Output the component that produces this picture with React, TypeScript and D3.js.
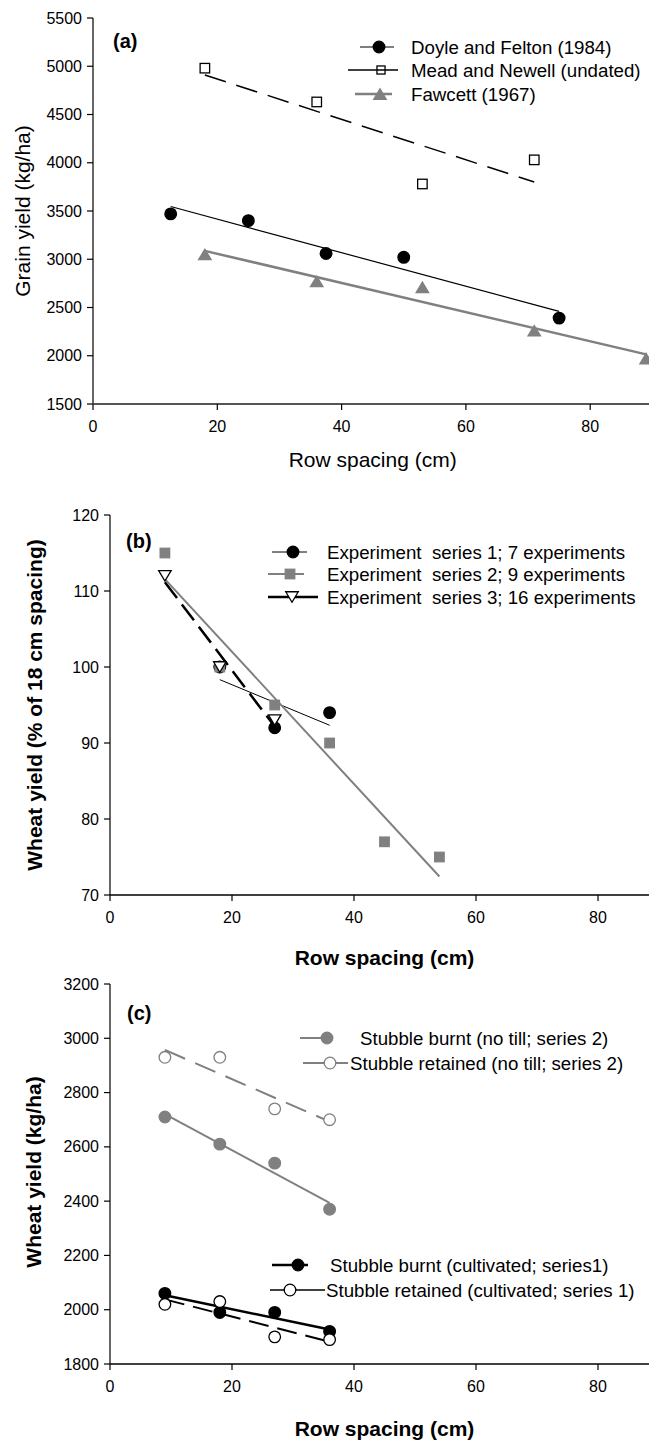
import React from 'react';
import * as d3 from 'd3';

const W = 649;
const H = 1441;
const FONT = "'Liberation Sans', Arial, Helvetica, sans-serif";
const GRAY = '#808080';

// ---------- shared ----------
const xTicks = [0, 20, 40, 60, 80];

// ---------- Panel (a) ----------
const doyleSpacing = [12.5, 25, 37.5, 50, 75];
const doyleYield = [3470, 3400, 3060, 3020, 2390];
const meadSpacing = [18, 36, 53, 71];
const meadYield = [4980, 4630, 3780, 4030];
const fawcettSpacing = [18, 36, 53, 71, 89];
const fawcettYield = [3050, 2770, 2710, 2260, 1970];
const yTicksA = [1500, 2000, 2500, 3000, 3500, 4000, 4500, 5000, 5500];
const legendA = ['Doyle and Felton (1984)', 'Mead and Newell (undated)', 'Fawcett (1967)'];

// ---------- Panel (b) ----------
const exp1Spacing = [18, 27, 36];
const exp1Yield = [100, 92, 94];
const exp2Spacing = [9, 18, 27, 36, 45, 54];
const exp2Yield = [115, 100, 95, 90, 77, 75];
const exp3Spacing = [9, 18, 27];
const exp3Yield = [112, 100, 93];
const yTicksB = [70, 80, 90, 100, 110, 120];
const legendB = [
  'Experiment  series 1; 7 experiments',
  'Experiment  series 2; 9 experiments',
  'Experiment  series 3; 16 experiments',
];

// ---------- Panel (c) ----------
const cSpacing = [9, 18, 27, 36];
const burntNoTill = [2710, 2610, 2540, 2370];
const retainedNoTill = [2930, 2930, 2740, 2700];
const burntCult = [2060, 1990, 1990, 1920];
const retainedCult = [2020, 2030, 1900, 1890];
const yTicksC = [1800, 2000, 2200, 2400, 2600, 2800, 3000, 3200];
const legendC1 = ['Stubble burnt (no till; series 2)', 'Stubble retained (no till; series 2)'];
const legendC2 = ['Stubble burnt (cultivated; series1)', 'Stubble retained (cultivated; series 1)'];

type Marker = 'circle' | 'square' | 'triUp' | 'triDown';

function fit(xs: number[], ys: number[]) {
  const mx = d3.mean(xs) as number;
  const my = d3.mean(ys) as number;
  let sxy = 0, sxx = 0;
  xs.forEach((x, i) => { sxy += (x - mx) * (ys[i] - my); sxx += (x - mx) * (x - mx); });
  const b = sxy / sxx;
  const x0 = d3.min(xs) as number, x1 = d3.max(xs) as number;
  return [[x0, my + b * (x0 - mx)], [x1, my + b * (x1 - mx)]] as [number, number][];
}

function MarkerShape({ type, cx, cy, fill, stroke, size = 1 }: { type: Marker; cx: number; cy: number; fill: string; stroke: string; size?: number }) {
  if (type === 'circle') return <circle cx={cx} cy={cy} r={5.8 * size} fill={fill} stroke={stroke} strokeWidth={1.3} />;
  if (type === 'square') {
    const s = 9.5 * size;
    return <rect x={cx - s / 2} y={cy - s / 2} width={s} height={s} fill={fill} stroke={stroke} strokeWidth={1.3} />;
  }
  const w = 12.5 * size, h = 10.5 * size;
  if (type === 'triUp') {
    return <path d={`M${cx - w / 2},${cy + h / 2}L${cx + w / 2},${cy + h / 2}L${cx},${cy - h / 2}Z`} fill={fill} stroke={stroke} strokeWidth={1.3} />;
  }
  return <path d={`M${cx - w / 2},${cy - h / 2}L${cx + w / 2},${cy - h / 2}L${cx},${cy + h / 2}Z`} fill={fill} stroke={stroke} strokeWidth={1.3} />;
}

interface Series {
  xs: number[];
  ys: number[];
  marker: Marker;
  fill: string;
  mstroke: string;
  lineColor: string;
  lineWidth: number;
  dash?: string;
}

interface LegendItem {
  label: string;
  marker: Marker;
  fill: string;
  mstroke: string;
  lineColor: string;
  lineWidth: number;
  x1: number;
  x2: number;
  mx: number;
  tx: number;
  y: number;
  msize?: number;
}

interface PanelProps {
  xRange: [number, number];
  yDomain: [number, number];
  yRange: [number, number];
  yTicks: number[];
  series: Series[];
  legend: LegendItem[];
  label: string;
  labelPos: [number, number];
  yTitle: string;
  yTitlePos: [number, number];
  xTitle: string;
  xTitleY: number;
  bold: boolean;
  xAxisColor?: string;
  xAxisWidth?: number;
}

function Panel(p: PanelProps) {
  const x = d3.scaleLinear().domain([0, 90]).range(p.xRange);
  const y = d3.scaleLinear().domain(p.yDomain).range(p.yRange);
  const line = d3.line<[number, number]>().x((d) => x(d[0])).y((d) => y(d[1]));
  const x0 = x(0);
  const yBottom = y(p.yDomain[0]);
  const yTop = y(p.yDomain[1]);
  const titleWeight = p.bold ? 'bold' : 'normal';
  return (
    <g>
      {/* y axis */}
      <line x1={x0} x2={x0} y1={yTop} y2={yBottom} stroke="#000" strokeWidth={1.2} />
      {p.yTicks.map((t) => (
        <g key={'yt' + t}>
          <line x1={x0 - 6} x2={x0} y1={y(t)} y2={y(t)} stroke="#000" strokeWidth={1.2} />
          <text x={x0 - 11} y={y(t)} dy="0.35em" textAnchor="end" fontSize={16} fontFamily={FONT}>{t}</text>
        </g>
      ))}
      {/* x axis */}
      <line x1={x0} x2={x(90)} y1={yBottom} y2={yBottom} stroke={p.xAxisColor || '#000'} strokeWidth={p.xAxisWidth || 1.5} />
      {xTicks.map((t) => (
        <g key={'xt' + t}>
          <line x1={x(t)} x2={x(t)} y1={yBottom} y2={yBottom + 6} stroke="#000" strokeWidth={1.2} />
          <text x={x(t)} y={yBottom + 28} textAnchor="middle" fontSize={16} fontFamily={FONT}>{t}</text>
        </g>
      ))}
      <text x={(x(0) + x(90)) / 2} y={p.xTitleY} textAnchor="middle" fontSize={21} fontWeight={titleWeight} fontFamily={FONT}>{p.xTitle}</text>
      <text transform={`translate(${p.yTitlePos[0]},${p.yTitlePos[1]}) rotate(-90)`} textAnchor="middle" fontSize={21} fontWeight={titleWeight} fontFamily={FONT}>{p.yTitle}</text>
      <text x={p.labelPos[0]} y={p.labelPos[1]} fontSize={20} fontWeight="bold" fontFamily={FONT}>{p.label}</text>
      {/* fit lines */}
      {p.series.map((s, i) => (
        <path key={'l' + i} d={line(fit(s.xs, s.ys)) as string} fill="none" stroke={s.lineColor} strokeWidth={s.lineWidth} strokeDasharray={s.dash} />
      ))}
      {/* markers */}
      {p.series.map((s, i) => (
        <g key={'m' + i}>
          {s.xs.map((xv, j) => (
            <MarkerShape key={j} type={s.marker} cx={x(xv)} cy={y(s.ys[j])} fill={s.fill} stroke={s.mstroke} />
          ))}
        </g>
      ))}
      {/* legend */}
      {p.legend.map((l, i) => (
        <g key={'lg' + i}>
          <line x1={l.x1} x2={l.x2} y1={l.y} y2={l.y} stroke={l.lineColor} strokeWidth={l.lineWidth} />
          <MarkerShape type={l.marker} cx={l.mx} cy={l.y} fill={l.fill} stroke={l.mstroke} size={l.msize || 1} />
          <text x={l.tx} y={l.y} dy="0.35em" fontSize={18.7} fontFamily={FONT} style={{ whiteSpace: 'pre' }}>{l.label}</text>
        </g>
      ))}
    </g>
  );
}

export default function App() {
  const seriesA: Series[] = [
    { xs: fawcettSpacing, ys: fawcettYield, marker: 'triUp', fill: GRAY, mstroke: GRAY, lineColor: GRAY, lineWidth: 2.5 },
    { xs: doyleSpacing, ys: doyleYield, marker: 'circle', fill: '#000', mstroke: '#000', lineColor: '#000', lineWidth: 1.2 },
    { xs: meadSpacing, ys: meadYield, marker: 'square', fill: '#fff', mstroke: '#000', lineColor: '#000', lineWidth: 1.5, dash: '22,11' },
  ];
  const legA: LegendItem[] = [
    { label: legendA[0], marker: 'circle', fill: '#000', mstroke: '#000', lineColor: '#000', lineWidth: 1.2, x1: 360, x2: 394, mx: 379, tx: 411, y: 47 },
    { label: legendA[1], marker: 'square', fill: 'none', mstroke: '#000', lineColor: '#000', lineWidth: 1.5, x1: 348, x2: 398, mx: 381, tx: 411, y: 70, msize: 0.85 },
    { label: legendA[2], marker: 'triUp', fill: GRAY, mstroke: GRAY, lineColor: GRAY, lineWidth: 2.5, x1: 355, x2: 392, mx: 380, tx: 411, y: 94 },
  ];
  const seriesB: Series[] = [
    { xs: exp1Spacing, ys: exp1Yield, marker: 'circle', fill: '#000', mstroke: '#000', lineColor: '#000', lineWidth: 1 },
    { xs: exp2Spacing, ys: exp2Yield, marker: 'square', fill: GRAY, mstroke: GRAY, lineColor: GRAY, lineWidth: 2 },
    { xs: exp3Spacing, ys: exp3Yield, marker: 'triDown', fill: '#fff', mstroke: '#000', lineColor: '#000', lineWidth: 2.5, dash: '20,8' },
  ];
  const legB: LegendItem[] = [
    { label: legendB[0], marker: 'circle', fill: '#000', mstroke: '#000', lineColor: '#000', lineWidth: 1, x1: 272, x2: 307, mx: 293, tx: 327, y: 552 },
    { label: legendB[1], marker: 'square', fill: GRAY, mstroke: GRAY, lineColor: GRAY, lineWidth: 2, x1: 268, x2: 304, mx: 290, tx: 327, y: 574 },
    { label: legendB[2], marker: 'triDown', fill: '#fff', mstroke: '#000', lineColor: '#000', lineWidth: 2.5, x1: 268, x2: 318, mx: 292, tx: 327, y: 597 },
  ];
  const seriesC: Series[] = [
    { xs: cSpacing, ys: burntNoTill, marker: 'circle', fill: GRAY, mstroke: GRAY, lineColor: GRAY, lineWidth: 2 },
    { xs: cSpacing, ys: retainedNoTill, marker: 'circle', fill: '#fff', mstroke: GRAY, lineColor: GRAY, lineWidth: 2, dash: '22,11' },
    { xs: cSpacing, ys: burntCult, marker: 'circle', fill: '#000', mstroke: '#000', lineColor: '#000', lineWidth: 2.5 },
    { xs: cSpacing, ys: retainedCult, marker: 'circle', fill: '#fff', mstroke: '#000', lineColor: '#000', lineWidth: 2, dash: '20,9' },
  ];
  const legC: LegendItem[] = [
    { label: legendC1[0], marker: 'circle', fill: GRAY, mstroke: GRAY, lineColor: GRAY, lineWidth: 2, x1: 300, x2: 333, mx: 327, tx: 360, y: 1038 },
    { label: legendC1[1], marker: 'circle', fill: '#fff', mstroke: GRAY, lineColor: GRAY, lineWidth: 2, x1: 303, x2: 348, mx: 330, tx: 350, y: 1063 },
    { label: legendC2[0], marker: 'circle', fill: '#000', mstroke: '#000', lineColor: '#000', lineWidth: 2.5, x1: 272, x2: 308, mx: 298, tx: 330, y: 1265 },
    { label: legendC2[1], marker: 'circle', fill: '#fff', mstroke: '#000', lineColor: '#000', lineWidth: 1.5, x1: 270, x2: 325, mx: 290, tx: 326, y: 1290 },
  ];

  return (
    <svg width={W} height={H} style={{ position: 'absolute', left: 0, top: 0, background: '#fff' }}>
      <rect x={0} y={0} width={W} height={H} fill="#fff" />
      <Panel
        xRange={[93, 93 + 90 * 6.215]}
        yDomain={[1500, 5500]}
        yRange={[404, 18]}
        yTicks={yTicksA}
        series={seriesA}
        legend={legA}
        label="(a)"
        labelPos={[113, 48]}
        yTitle="Grain yield (kg/ha)"
        yTitlePos={[30, 211]}
        xTitle="Row spacing (cm)"
        xTitleY={467}
        bold={false}
        xAxisColor="#555"
        xAxisWidth={2}
      />
      <Panel
        xRange={[110, 110 + 90 * 6.1]}
        yDomain={[70, 120]}
        yRange={[895, 515]}
        yTicks={yTicksB}
        series={seriesB}
        legend={legB}
        label="(b)"
        labelPos={[126, 548]}
        yTitle="Wheat yield (% of 18 cm spacing)"
        yTitlePos={[42, 705]}
        xTitle="Row spacing (cm)"
        xTitleY={965}
        bold={true}
      />
      <Panel
        xRange={[110, 110 + 90 * 6.1]}
        yDomain={[1800, 3200]}
        yRange={[1364, 984]}
        yTicks={yTicksC}
        series={seriesC}
        legend={legC}
        label="(c)"
        labelPos={[127, 1020]}
        yTitle="Wheat yield (kg/ha)"
        yTitlePos={[41, 1172]}
        xTitle="Row spacing (cm)"
        xTitleY={1436}
        bold={true}
      />
    </svg>
  );
}
